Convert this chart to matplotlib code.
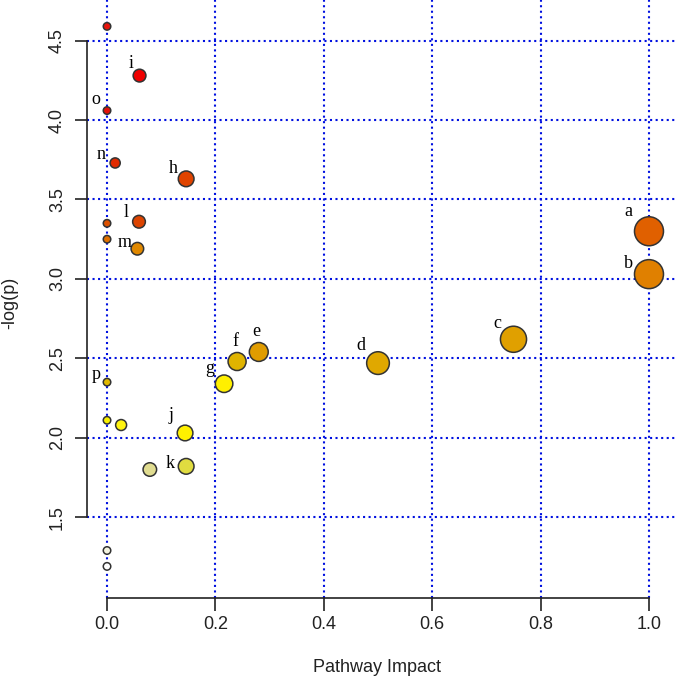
import numpy as np
import matplotlib.pyplot as plt

# pathway impact vs -log(p), one entry per pathway
impact = [0.0, 0.060, 0.0, 0.015, 0.146, 0.059, 0.0, 1.0, 0.0, 0.056, 1.0, 0.75,
          0.28, 0.24, 0.50, 0.0, 0.216, 0.0, 0.026, 0.144, 0.146, 0.079, 0.0, 0.0]
neglogp = [4.59, 4.28, 4.06, 3.73, 3.63, 3.36, 3.35, 3.30, 3.25, 3.19, 3.03, 2.62,
           2.54, 2.48, 2.47, 2.35, 2.34, 2.11, 2.08, 2.03, 1.82, 1.80, 1.29, 1.19]
labels = ['', 'i', 'o', 'n', 'h', 'l', '', 'a', '', 'm', 'b', 'c',
          'e', 'f', 'd', 'p', 'g', '', '', 'j', 'k', '', '', '']

xticks = [0.0, 0.2, 0.4, 0.6, 0.8, 1.0]
yticks = [1.5, 2.0, 2.5, 3.0, 3.5, 4.0, 4.5]

# fill colours (heat-like, red = most significant)
fill = ['#e8140c', '#f00000', '#e41008', '#e02a00', '#e04400', '#dc4400', '#dc5000',
        '#e06000', '#e07000', '#e08800', '#e08000', '#e0a000', '#e09c00', '#e0b400',
        '#e0a800', '#e0b800', '#fff000', '#f8f000', '#fff410', '#fff000', '#e0dc40',
        '#e0dc90', '#f4f4e0', '#ffffff']

# label offsets in pixels (dx right, dy down) from the circle centre
offsets = {'a': (-21, -20), 'b': (-21, -11), 'c': (-16, -16), 'd': (-17, -18),
           'e': (-2, -20), 'f': (-2, -20), 'g': (-14, -15), 'h': (-13, -10),
           'i': (-8, -12), 'j': (-14, -17), 'k': (-16, -3), 'l': (-13, -9),
           'm': (-13, -6), 'n': (-14, -8), 'o': (-11, -11), 'p': (-11, -8)}

x = np.array(impact)
y = np.array(neglogp)

# circle diameter grows with sqrt(impact), like MetaboAnalyst
diam_px = 7.5 + 21.5 * np.sqrt(x)
sizes = (diam_px * 0.72) ** 2

fig = plt.figure(figsize=(6.75, 6.83), dpi=100)
ax = fig.add_axes([86.7 / 675, 85 / 683, (675 - 86.7) / 675, 598 / 683])

ax.set_xlim(-0.0375, 1.048)
ax.set_ylim(0.991, 4.756)

for xv in xticks:
    ax.axvline(xv, color='#0010e0', linestyle=':', linewidth=1.5, zorder=1)
for yv in yticks:
    ax.axhline(yv, color='#0010e0', linestyle=':', linewidth=1.5, zorder=1)

ax.scatter(x, y, s=sizes, c=fill, edgecolors='#333333', linewidths=1.1, zorder=3,
           clip_on=False)

for xi, yi, lab in zip(x, y, labels):
    if not lab:
        continue
    dx, dy = offsets[lab]
    ax.annotate(lab, (xi, yi), xytext=(dx, -dy), textcoords='offset pixels',
                ha='center', va='center', fontsize=13, family='Liberation Serif',
                zorder=4)

for side in ['top', 'right']:
    ax.spines[side].set_visible(False)
ax.spines['bottom'].set_bounds(0, 1)
ax.spines['left'].set_bounds(1.5, 4.5)
for side in ['bottom', 'left']:
    ax.spines[side].set_linewidth(1.2)
    ax.spines[side].set_color('#222222')

ax.set_xticks(xticks)
ax.set_yticks(yticks)
ax.set_xticklabels([f'{v:.1f}' for v in xticks], family='Liberation Sans', fontsize=13)
ax.set_yticklabels([f'{v:.1f}' for v in yticks], family='Liberation Sans', fontsize=13,
                   rotation=90, va='center')
ax.tick_params(axis='both', length=9, width=1.2, color='#222222', labelcolor='#222222')
ax.tick_params(axis='x', pad=4)
ax.tick_params(axis='y', pad=6)

ax.set_xlabel('Pathway Impact', family='Liberation Sans', fontsize=13,
              color='#222222', va='center')
ax.xaxis.set_label_coords((377 - 86.7) / 588.3, (598 - 667) / 598)
ax.set_ylabel('-log(p)', family='Liberation Sans', fontsize=13,
              color='#222222', va='center', ha='center')
ax.yaxis.set_label_coords((10 - 86.7) / 588.3, (598 - 303) / 598)

fig.savefig('out.png', dpi=100)
